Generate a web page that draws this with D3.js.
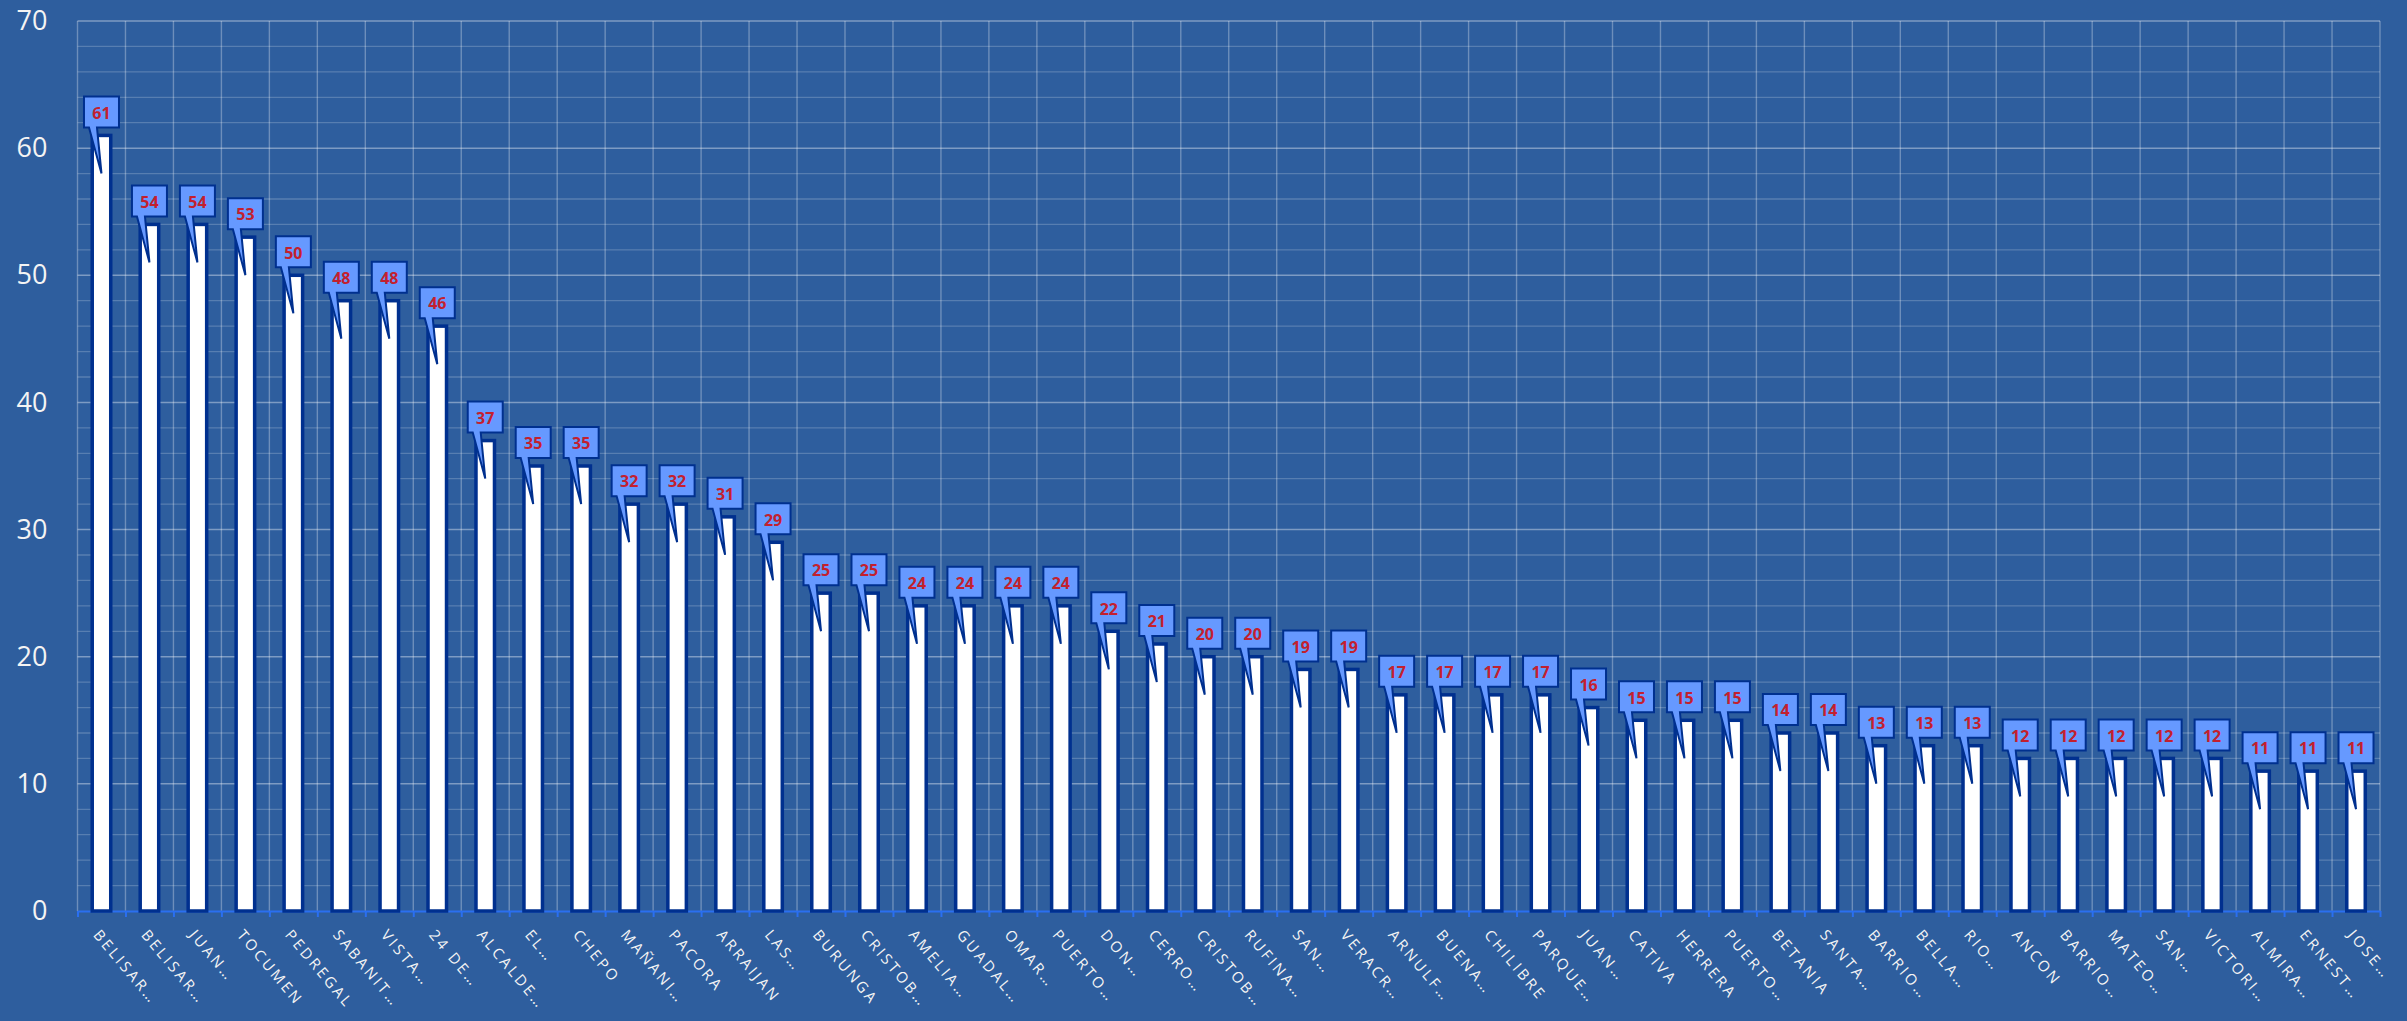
<!DOCTYPE html>
<html lang="es">
<head>
<meta charset="UTF-8">
<title>Barras con llamadas</title>
<script src="https://cdn.jsdelivr.net/npm/d3@7/dist/d3.min.js"></script>
<style>
  html, body { margin: 0; padding: 0; background: #2e5e9e; }
  svg { display: block; }
</style>
</head>
<body>
<svg id="main" width="2407" height="1021"></svg>
<script>
    // categories as shown (truncated) on the x axis
    const categories = ['BELISAR…', 'BELISAR…', 'JUAN…', 'TOCUMEN', 'PEDREGAL', 'SABANIT…',
        'VISTA…', '24 DE…', 'ALCALDE…', 'EL…', 'CHEPO', 'MAÑANI…', 'PACORA', 'ARRAIJAN',
        'LAS…', 'BURUNGA', 'CRISTOB…', 'AMELIA…', 'GUADAL…', 'OMAR…', 'PUERTO…', 'DON…',
        'CERRO…', 'CRISTOB…', 'RUFINA…', 'SAN…', 'VERACR…', 'ARNULF…', 'BUENA…', 'CHILIBRE',
        'PARQUE…', 'JUAN…', 'CATIVA', 'HERRERA', 'PUERTO…', 'BETANIA', 'SANTA…', 'BARRIO…',
        'BELLA…', 'RIO…', 'ANCON', 'BARRIO…', 'MATEO…', 'SAN…', 'VICTORI…', 'ALMIRA…',
        'ERNEST…', 'JOSE…'];

    const values = [61, 54, 54, 53, 50, 48, 48, 46, 37, 35, 35, 32, 32, 31, 29, 25, 25,
        24, 24, 24, 24, 22, 21, 20, 20, 19, 19, 17, 17, 17, 17, 16, 15, 15, 15, 14, 14,
        13, 13, 13, 12, 12, 12, 12, 12, 11, 11, 11];

    const yTicks = [0, 10, 20, 30, 40, 50, 60, 70];

    let svg = d3.select('svg#main');
    const W = 2407, H = 1021;
    const plotLeft = 77.5, plotRight = 2380, plotTop = 21, plotBottom = 911;

    const bg = '#2e5e9e';
    const barStroke = '#00308f';
    const calloutFill = '#6699ff';
    const labelRed = '#c3202e';

    svg.append('rect').attr('width', W).attr('height', H).attr('fill', bg);

    let idx = d3.range(categories.length);
    let xScale = d3.scaleBand().domain(idx).range([plotLeft, plotRight]).padding(0);
    let xEdge = d3.scaleLinear().domain([0, categories.length]).range([plotLeft, plotRight]);
    let yScale = d3.scaleLinear().domain([0, 70]).range([plotBottom, plotTop]);

    // gridlines
    let grid = svg.append('g');
    grid.selectAll('line.minor')
        .data(d3.range(0, 71, 2).filter(v => v % 10 !== 0))
        .enter().append('line')
        .attr('x1', plotLeft).attr('x2', plotRight)
        .attr('y1', d => yScale(d)).attr('y2', d => yScale(d))
        .attr('stroke', 'rgba(255,255,255,0.2)').attr('stroke-width', 1.3);
    grid.selectAll('line.major')
        .data(yTicks.filter(v => v > 0))
        .enter().append('line')
        .attr('x1', plotLeft).attr('x2', plotRight)
        .attr('y1', d => yScale(d)).attr('y2', d => yScale(d))
        .attr('stroke', 'rgba(255,255,255,0.38)').attr('stroke-width', 1.5);
    grid.selectAll('line.vert')
        .data(d3.range(categories.length + 1))
        .enter().append('line')
        .attr('x1', d => xEdge(d)).attr('x2', d => xEdge(d))
        .attr('y1', plotTop).attr('y2', plotBottom)
        .attr('stroke', 'rgba(255,255,255,0.3)').attr('stroke-width', 1.4);

    // y axis labels
    let yAxis = svg.append('g')
        .attr('transform', 'translate(' + plotLeft + ',0)')
        .call(d3.axisLeft(yScale).tickValues(yTicks).tickSize(0).tickPadding(30));
    yAxis.select('.domain').remove();
    yAxis.selectAll('text')
        .attr('fill', '#f4f4f4')
        .style('font-family', '"Open Sans", sans-serif')
        .style('font-size', '27px');

    // x axis line + boundary ticks
    let xTickAxis = svg.append('g')
        .attr('transform', 'translate(0,' + plotBottom + ')')
        .call(d3.axisBottom(xEdge).tickValues(d3.range(categories.length + 1))
            .tickFormat('').tickSize(6).tickSizeOuter(0));
    xTickAxis.selectAll('line, path').attr('stroke', '#2a6ff0').attr('stroke-width', 2);

    // category labels
    let xAxis = svg.append('g')
        .attr('transform', 'translate(0,' + plotBottom + ')')
        .call(d3.axisBottom(xScale).tickSize(0).tickFormat(i => categories[i]));
    xAxis.select('.domain').remove();
    xAxis.selectAll('text')
        .attr('x', 0).attr('y', 0).attr('dy', '0.35em')
        .attr('text-anchor', 'start')
        .attr('transform', 'translate(-5,21) rotate(50)')
        .attr('fill', '#f4f4f4')
        .style('font-family', '"Open Sans", sans-serif')
        .style('font-size', '15px')
        .style('letter-spacing', '2.8px');

    // bars
    const barW = 18.5;
    svg.append('g').selectAll('rect')
        .data(values)
        .enter().append('rect')
        .attr('x', (d, i) => xScale(i) + xScale.bandwidth() / 2 - barW / 2)
        .attr('y', d => yScale(d))
        .attr('width', barW)
        .attr('height', d => yScale(0) - yScale(d))
        .attr('fill', '#ffffff')
        .attr('stroke', barStroke)
        .attr('stroke-width', 3.5);

    // callouts
    let callouts = svg.append('g').selectAll('g')
        .data(values)
        .enter().append('g')
        .attr('transform', (d, i) => 'translate(' + (xScale(i) + xScale.bandwidth() / 2) + ',' + yScale(d) + ')');

    callouts.append('path')
        .attr('d', 'M-17.5,-39 H17.5 V-8 H-4.5 L0,38 L-12.5,-8 H-17.5 Z')
        .attr('fill', calloutFill)
        .attr('stroke', barStroke)
        .attr('stroke-width', 2)
        .attr('stroke-linejoin', 'miter');

    callouts.append('text')
        .text(d => d)
        .attr('x', 0).attr('y', -22.5)
        .attr('dy', '0.36em')
        .attr('text-anchor', 'middle')
        .attr('fill', labelRed)
        .style('font-family', '"Open Sans", sans-serif')
        .style('font-weight', 'bold')
        .style('font-size', '16px');
</script>
</body>
</html>
